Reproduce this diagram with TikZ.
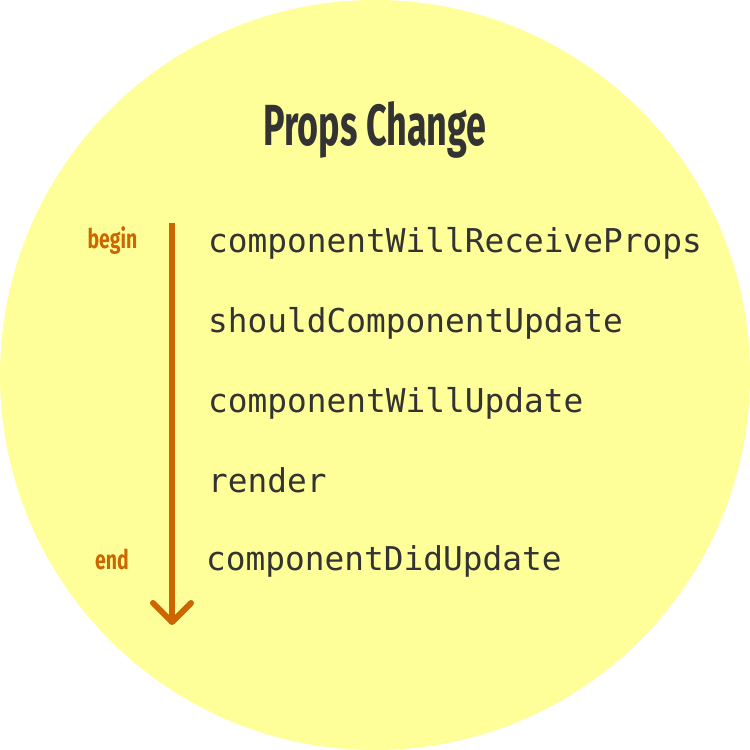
\documentclass[tikz,border=0pt]{standalone}
\usepackage{fontspec}
\setmonofont{DejaVu Sans Mono}
\newfontfamily\titlefont[FakeStretch=0.62]{Fira Sans}
\newfontfamily\labelfont[FakeStretch=0.72]{Fira Sans}
\definecolor{bgyellow}{HTML}{FFFF99}
\definecolor{txtdark}{HTML}{333333}
\definecolor{arroworange}{HTML}{CC6600}
\tikzset{
  method/.style={anchor=base west, inner sep=0pt, text=txtdark, font=\ttfamily\fontsize{32.8}{36}\selectfont},
  sidelabel/.style={anchor=base, inner sep=0pt, text=arroworange, font=\labelfont\bfseries\fontsize{27}{30}\selectfont},
  flow/.style={draw=arroworange, line width=6pt},
}
\begin{document}
\begin{tikzpicture}[x=1pt,y=-1pt]
\useasboundingbox (0,0) rectangle (750,750);
\fill[bgyellow] (375,375) circle[radius=375pt];
\node[anchor=base, inner sep=0pt, text=txtdark, font=\titlefont\bfseries\fontsize{58}{62}\selectfont] (title) at (375,145) {Props Change};
\node[method] (m1) at (208,252) {componentWillReceiveProps};
\node[method] (m2) at (208,332) {shouldComponentUpdate};
\node[method] (m3) at (208,412) {componentWillUpdate};
\node[method] (m4) at (208,492) {render};
\node[method] (m5) at (206,570) {componentDidUpdate};
\node[sidelabel] (begin) at (112.5,248) {begin};
\node[sidelabel] (end) at (112,569) {end};
\coordinate (top) at (172,223);
\coordinate (tip) at (172,622);
\coordinate (la) at (153,603);
\coordinate (ra) at (191,603);
\draw[flow] (top) -- ([yshift=-2pt]tip);
\draw[flow, line cap=round, line join=round] (la) -- (tip) -- (ra);
\end{tikzpicture}
\end{document}
